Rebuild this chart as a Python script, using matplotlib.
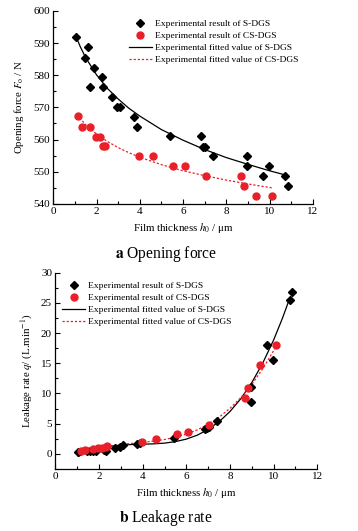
import matplotlib
matplotlib.use("Agg")
import matplotlib.pyplot as plt
from matplotlib.ticker import MultipleLocator

# ---------------- data: opening force ----------------
s_x = [1.05, 1.45, 1.59, 1.70, 1.87, 2.24, 2.31, 2.72, 2.96, 3.09, 3.72, 3.86,
       5.41, 6.83, 6.94, 7.02, 7.40, 8.94, 8.94, 9.68, 9.99, 10.73, 10.84]
s_force = [592.0, 585.5, 588.7, 576.3, 582.4, 579.4, 576.3, 573.2, 570.1, 570.2,
           567.1, 564.0, 561.0, 561.0, 557.8, 557.8, 554.8, 554.8, 551.7, 548.6,
           551.7, 548.6, 545.5]
cs_x = [1.16, 1.34, 1.70, 1.96, 2.15, 2.32, 2.38, 3.95, 4.60, 5.55, 6.08, 7.05,
        8.70, 8.82, 9.39, 10.10]
cs_force = [567.2, 564.0, 564.0, 560.9, 560.9, 557.9, 557.9, 554.9, 554.9, 551.8,
            551.8, 548.7, 548.7, 545.7, 542.6, 542.6]

# fitted curves
fit_s_force_x = [1.05, 1.25, 1.5, 2, 2.5, 3, 3.5, 4, 5, 6, 7, 8, 9, 10, 10.73]
fit_s_force_y = [592.0, 588.8, 585.4, 580.1, 575.9, 572.6, 569.7, 567.3, 563.1,
                 559.8, 556.9, 554.4, 552.3, 550.3, 549.0]
fit_cs_force_x = [1.1, 1.25, 1.5, 2, 2.5, 3, 3.5, 4, 5, 6, 7, 8, 9, 10.1]
fit_cs_force_y = [567.8, 566.5, 564.6, 561.7, 559.4, 557.5, 555.9, 554.5, 552.2,
                  550.3, 548.8, 547.4, 546.2, 545.0]

# ---------------- data: leakage rate ----------------
s_leak = [0.3, 0.4, 0.45, 0.5, 0.55, 0.6, 0.55, 1.05, 1.2, 1.4, 1.6, 1.85,
          2.7, 4.1, 4.3, 4.5, 5.4, 8.6, 11.0, 18.0, 15.5, 25.4, 26.8]
cs_leak = [0.55, 0.65, 0.75, 0.9, 1.0, 1.15, 1.25, 1.9, 2.45, 3.25, 3.6, 4.8,
           9.3, 10.95, 14.65, 18.0]

fit_s_leak_x = [1.05, 1.5, 2, 2.5, 3, 3.5, 4, 4.5, 5, 5.5, 6, 6.5, 7, 7.5, 8,
                8.5, 9, 9.5, 10, 10.4, 10.7]
fit_s_leak_y = [-0.4, 0.34, 0.91, 1.26, 1.46, 1.55, 1.60, 1.66, 1.78, 2.03, 2.45,
                3.10, 4.05, 5.33, 7.02, 9.16, 11.81, 15.03, 18.87, 22.43, 25.4]
fit_cs_leak_x = [1.05, 1.5, 2, 2.5, 3, 3.5, 4, 4.5, 5, 5.5, 6, 6.5, 7, 7.5, 8,
                 8.5, 9, 9.5, 10.1]
fit_cs_leak_y = [0.1, 0.61, 1.03, 1.34, 1.56, 1.74, 1.91, 2.11, 2.38, 2.76, 3.28,
                 3.98, 4.90, 6.07, 7.54, 9.34, 11.51, 14.09, 17.7]

x_ticks = [0, 2, 4, 6, 8, 10, 12]
force_ticks = [540, 550, 560, 570, 580, 590, 600]
leak_ticks = [0, 5, 10, 15, 20, 25, 30]

labels = ["Experimental result of S-DGS", "Experimental result of CS-DGS",
          "Experimental fitted value of S-DGS", "Experimental fitted value of CS-DGS"]

RED = "#e8202a"

plt.rcParams["font.family"] = ["Liberation Serif", "DejaVu Serif"]
plt.rcParams["mathtext.fontset"] = "stix"

fig = plt.figure(figsize=(3.58, 5.31), dpi=100)
ax1 = fig.add_axes([0.149, 0.616, 0.7246, 0.3635])
ax2 = fig.add_axes([0.155, 0.1168, 0.7313, 0.3697])


def style(ax, yticks, ymin, ymax, yminor):
    ax.set_xlim(0, 12)
    ax.set_ylim(ymin, ymax)
    ax.set_xticks(x_ticks)
    ax.set_yticks(yticks)
    ax.xaxis.set_minor_locator(MultipleLocator(1))
    ax.yaxis.set_minor_locator(MultipleLocator(yminor))
    for sp in ("top", "right"):
        ax.spines[sp].set_visible(False)
    for sp in ("left", "bottom"):
        ax.spines[sp].set_linewidth(0.9)
    ax.tick_params(which="both", direction="in", labelsize=8, width=0.8, pad=2.5)
    ax.tick_params(which="major", length=3.5)
    ax.tick_params(which="minor", length=2)


# ---- top: opening force ----
ax = ax1
ax.plot(s_x, s_force, "D", color="black", ms=4.4, ls="none", label=labels[0], zorder=3)
ax.plot(cs_x, cs_force, "o", color=RED, ms=5, ls="none", label=labels[1], zorder=3)
ax.plot(fit_s_force_x, fit_s_force_y, "-", color="black", lw=0.9, label=labels[2])
ax.plot(fit_cs_force_x, fit_cs_force_y, color=RED, lw=0.9, ls=(0, (1.8, 1.5)), label=labels[3])
style(ax, force_ticks, 540, 600, 5)
ax.set_xlabel(r"Film thickness $h_0$ / μm", fontsize=7.8, labelpad=3.5)
ax.set_ylabel(r"Opening force $F_\mathrm{o}$ / N", fontsize=7.8)
ax.yaxis.set_label_coords(-0.105, 0.5)
ax.legend(loc="upper left", bbox_to_anchor=(0.29, 0.955), frameon=False, fontsize=6.8,
          handlelength=2.5, handletextpad=0.25, labelspacing=0.36, borderpad=0,
          borderaxespad=0)

# ---- bottom: leakage rate ----
ax = ax2
ax.plot(s_x, s_leak, "D", color="black", ms=4.4, ls="none", label=labels[0], zorder=3)
ax.plot(cs_x, cs_leak, "o", color=RED, ms=5, ls="none", label=labels[1], zorder=3)
ax.plot(fit_s_leak_x, fit_s_leak_y, "-", color="black", lw=0.9, label=labels[2])
ax.plot(fit_cs_leak_x, fit_cs_leak_y, color=RED, lw=0.9, ls=(0, (1.8, 1.5)), label=labels[3])
style(ax, leak_ticks, -2.5, 30, 2.5)
ax.set_xlabel(r"Film thickness $h_0$ / μm", fontsize=7.8, labelpad=3.5)
ax.set_ylabel(r"Leakage rate $q$/ (L.min$^{-1}$)", fontsize=7.8)
ax.yaxis.set_label_coords(-0.078, 0.5)
ax.legend(loc="upper left", bbox_to_anchor=(0.024, 0.955), frameon=False, fontsize=6.8,
          handlelength=2.5, handletextpad=0.25, labelspacing=0.36, borderpad=0,
          borderaxespad=0)

fig.text(166 / 358, 1 - 254 / 531, r"$\mathbf{a}$ Opening force", ha="center",
         va="center", fontsize=11.2)
fig.text(166 / 358, 1 - 517.5 / 531, r"$\mathbf{b}$ Leakage rate", ha="center",
         va="center", fontsize=11.2)

fig.savefig("out.png", dpi=100)
